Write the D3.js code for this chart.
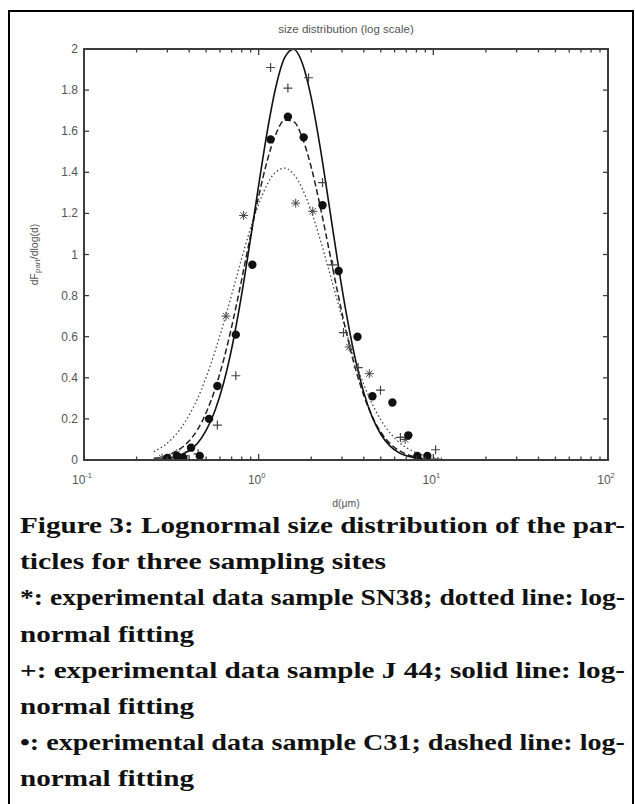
<!DOCTYPE html>
<html><head><meta charset="utf-8">
<script src="https://cdn.jsdelivr.net/npm/d3@7"></script>
<style>
html,body{margin:0;padding:0;background:#fff;}
svg{display:block;}
.cap{font-family:"Liberation Serif","Times New Roman",serif;font-weight:bold;font-size:24px;fill:#111;}
.ax{font-family:"Liberation Sans",Arial,sans-serif;fill:#555;}
</style></head>
<body>
<svg id="chart" width="635" height="804"></svg>
<script>
// ---------- data ----------
const title = "size distribution (log scale)";
const xDecades = [0.1, 1, 10, 100];
const xDecadeExp = ["-1", "0", "1", "2"];
const yTicks = [0, 0.2, 0.4, 0.6, 0.8, 1, 1.2, 1.4, 1.6, 1.8, 2];
const yTickLabels = ["0", "0.2", "0.4", "0.6", "0.8", "1", "1.2", "1.4", "1.6", "1.8", "2"];

// fitted curves, read along a common diameter grid (µm)
const fitD = [0.251,0.282,0.316,0.355,0.398,0.447,0.501,0.562,0.631,0.708,0.794,0.891,1.0,1.122,1.259,1.413,1.585,1.778,1.995,2.239,2.512,2.818,3.162,3.548,3.981,4.467,5.012,5.623,6.310,7.079,7.943,8.913,10.0,11.22];
const fitJ44  = [0.002,0.005,0.011,0.023,0.045,0.082,0.145,0.24,0.377,0.561,0.791,1.057,1.337,1.603,1.821,1.960,1.999,1.931,1.767,1.532,1.259,0.979,0.722,0.504,0.334,0.209,0.124,0.070,0.037,0.019,0.009,0.004,0.002,0.001];
const fitC31  = [0.008,0.016,0.030,0.054,0.091,0.148,0.231,0.344,0.489,0.666,0.866,1.078,1.283,1.460,1.589,1.654,1.647,1.568,1.428,1.243,1.035,0.824,0.628,0.457,0.319,0.212,0.135,0.082,0.048,0.027,0.014,0.007,0.004,0.002];
const fitSN38 = [0.041,0.065,0.100,0.149,0.215,0.299,0.404,0.528,0.668,0.819,0.972,1.118,1.245,1.343,1.403,1.420,1.391,1.320,1.213,1.079,0.930,0.776,0.627,0.491,0.372,0.273,0.194,0.134,0.089,0.058,0.036,0.022,0.013,0.008];

// experimental points
const ptsJ44D  = [0.31,0.38,0.45,0.58,0.74,1.17,1.47,1.93,2.32,2.65,3.06,3.71,4.98,6.48,10.3];
const ptsJ44V  = [0.01,0.02,0.03,0.17,0.41,1.91,1.81,1.86,1.35,0.95,0.62,0.45,0.34,0.11,0.05];
const ptsSN38D = [0.28,0.34,0.65,0.82,1.63,2.04,3.3,4.3,6.9];
const ptsSN38V = [0.01,0.03,0.70,1.19,1.25,1.21,0.55,0.42,0.10];
const ptsC31D  = [0.30,0.34,0.37,0.41,0.46,0.52,0.58,0.74,0.92,1.17,1.47,1.81,2.32,2.87,3.68,4.48,5.83,7.19,8.1,9.24];
const ptsC31V  = [0.01,0.02,0.01,0.06,0.02,0.20,0.36,0.61,0.95,1.56,1.67,1.57,1.24,0.92,0.60,0.31,0.28,0.12,0.02,0.02];

const captionLines = [
  "Figure 3: Lognormal size distribution of the par-",
  "ticles for three sampling sites",
  "*: experimental data sample SN38; dotted line: log-",
  "normal fitting",
  "+: experimental data sample J 44; solid line:  log-",
  "normal fitting",
  "\u2022: experimental data sample C31; dashed line: log-",
  "normal fitting"
];
const captionWidths = [605, 366, 605, 174, 605, 174, 605, 174];

// ---------- layout ----------
const svg = d3.select("#chart");
const L = 84, R = 608, T = 49, B = 460;
const x = d3.scaleLog().domain([0.1, 100]).range([L, R]);
const y = d3.scaleLinear().domain([0, 2]).range([B, T]);
const axisColor = "#3c3c3c";

// outer frame
svg.append("path").attr("d", `M9,804 V11 H633 V804`).attr("fill", "none").attr("stroke", "#000").attr("stroke-width", 2);

// title
svg.append("text").attr("class", "ax").attr("x", (L + R) / 2).attr("y", 33).attr("text-anchor", "middle")
  .attr("font-size", 11.5).text(title);

// clip
svg.append("clipPath").attr("id", "clip").append("rect").attr("x", L).attr("y", T - 2).attr("width", R - L).attr("height", B - T + 2);
const plot = svg.append("g").attr("clip-path", "url(#clip)");

// curves
const line = d3.line().x(d => x(d[0])).y(d => y(d[1])).curve(d3.curveMonotoneX);
function drawFit(vals, dash, color, w) {
  plot.append("path").datum(fitD.map((d, i) => [d, vals[i]]))
    .attr("d", line).attr("fill", "none").attr("stroke", color).attr("stroke-width", w)
    .attr("stroke-dasharray", dash);
}
drawFit(fitSN38, "1.5,2.5", "#444", 1.3);
drawFit(fitC31, "6,3", "#222", 1.5);
drawFit(fitJ44, null, "#111", 1.6);

// markers
const s = 4.5;
plot.append("g").selectAll("path").data(ptsJ44D.map((d, i) => [d, ptsJ44V[i]])).join("path")
  .attr("d", d => { const cx = x(d[0]), cy = y(d[1]); return `M${cx - s},${cy}H${cx + s}M${cx},${cy - s}V${cy + s}`; })
  .attr("stroke", "#444").attr("stroke-width", 1.2).attr("fill", "none");
plot.append("g").selectAll("path").data(ptsSN38D.map((d, i) => [d, ptsSN38V[i]])).join("path")
  .attr("d", d => { const cx = x(d[0]), cy = y(d[1]), k = s * 0.7;
    return `M${cx - s},${cy}H${cx + s}M${cx},${cy - s}V${cy + s}M${cx - k},${cy - k}L${cx + k},${cy + k}M${cx - k},${cy + k}L${cx + k},${cy - k}`; })
  .attr("stroke", "#444").attr("stroke-width", 1.0).attr("fill", "none");
plot.append("g").selectAll("circle").data(ptsC31D.map((d, i) => [d, ptsC31V[i]])).join("circle")
  .attr("cx", d => x(d[0])).attr("cy", d => y(d[1])).attr("r", 4.2).attr("fill", "#111");

// ticks (inward)
const minor = [];
xDecades.slice(0, -1).forEach(dec => { for (let k = 2; k <= 9; k++) minor.push(dec * k); });
const tg = svg.append("g").attr("stroke", axisColor).attr("stroke-width", 1.3);
tg.selectAll(".xb").data(xDecades).join("line").attr("x1", d => x(d)).attr("x2", d => x(d)).attr("y1", B).attr("y2", B - 6);
tg.selectAll(".xt").data(xDecades).join("line").attr("x1", d => x(d)).attr("x2", d => x(d)).attr("y1", T).attr("y2", T + 6);
tg.selectAll(".xbm").data(minor).join("line").attr("x1", d => x(d)).attr("x2", d => x(d)).attr("y1", B).attr("y2", B - 3.5);
tg.selectAll(".xtm").data(minor).join("line").attr("x1", d => x(d)).attr("x2", d => x(d)).attr("y1", T).attr("y2", T + 3.5);
tg.selectAll(".yl").data(yTicks).join("line").attr("x1", L).attr("x2", L + 5).attr("y1", d => y(d)).attr("y2", d => y(d));
tg.selectAll(".yr").data(yTicks).join("line").attr("x1", R).attr("x2", R - 5).attr("y1", d => y(d)).attr("y2", d => y(d));

// box
svg.append("rect").attr("x", L).attr("y", T).attr("width", R - L).attr("height", B - T)
  .attr("fill", "none").attr("stroke", axisColor).attr("stroke-width", 2);

// y tick labels
svg.append("g").selectAll("text").data(yTicks).join("text").attr("class", "ax")
  .attr("x", L - 6).attr("y", d => y(d) + 4).attr("text-anchor", "end")
  .attr("font-size", 12)
  .text((d, i) => yTickLabels[i]);

// x tick labels 10^n
const xl = svg.append("g").selectAll("text").data(xDecades).join("text").attr("class", "ax")
  .attr("x", d => x(d) - 2).attr("y", 484).attr("text-anchor", "middle")
  .attr("font-size", 12);
xl.append("tspan").text("10");
xl.append("tspan").attr("dy", -6).attr("font-size", 7.5).text((d, i) => xDecadeExp[i]);

// axis labels
svg.append("text").attr("class", "ax").attr("x", (L + R) / 2).attr("y", 507).attr("text-anchor", "middle")
  .attr("font-size", 10.5).text("d(\u03bcm)");
const yl = svg.append("text").attr("class", "ax").attr("transform", `translate(38,${(T + B) / 2}) rotate(-90)`).attr("text-anchor", "middle")
  .attr("font-size", 10.5);
yl.append("tspan").text("dF");
yl.append("tspan").attr("dy", 2).attr("font-size", 8).text("part");
yl.append("tspan").attr("dy", -2).text("/dlog(d)");

// caption
const cap = svg.append("g");
cap.selectAll("text").data(captionLines).join("text").attr("class", "cap")
  .attr("x", 20).attr("y", (d, i) => 533 + i * 36.2)
  .attr("textLength", (d, i) => captionWidths[i]).attr("lengthAdjust", "spacingAndGlyphs")
  .text(d => d);
</script>
</body></html>
